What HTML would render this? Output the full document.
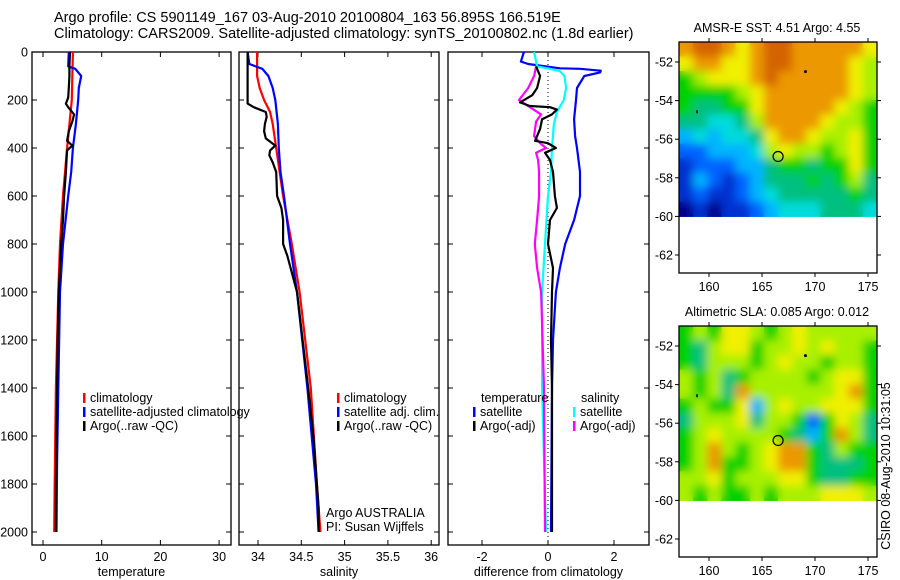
<!DOCTYPE html>
<html><head><meta charset="utf-8"><style>
body{margin:0;background:#fff;}
svg{display:block;font-family:"Liberation Sans",sans-serif;}
</style></head><body>
<svg id="fig" width="900" height="580" viewBox="0 0 900 580" xmlns="http://www.w3.org/2000/svg">
<defs>
<filter id="smooth" x="0" y="0" width="1" height="1"><feGaussianBlur stdDeviation="4.5"/></filter>
<clipPath id="clip-sst"><rect x="679" y="42" width="198" height="175"/></clipPath>
<clipPath id="clip-sla"><rect x="679" y="326" width="198" height="176"/></clipPath>
</defs>
<text x="54" y="22" font-size="14.5">Argo profile: CS 5901149_167 03-Aug-2010 20100804_163 56.895S 166.519E</text>
<text x="54" y="38" font-size="14.5">Climatology: CARS2009. Satellite-adjusted climatology: synTS_20100802.nc (1.8d earlier)</text>
<text x="777" y="32" font-size="12.5" text-anchor="middle">AMSR-E SST: 4.51  Argo: 4.55</text>
<text x="777" y="316" font-size="12.5" text-anchor="middle">Altimetric SLA: 0.085  Argo: 0.012</text>
<text transform="translate(890,466) rotate(-90)" font-size="12.5" text-anchor="middle">CSIRO 08-Aug-2010 10:31:05</text>
<g id="plots"></g>
</svg>
<script>
// ---- data ----
const depthTicks = [0,200,400,600,800,1000,1200,1400,1600,1800,2000];
const tempTicks = [0,10,20,30];
const salTicks = [34,34.5,35,35.5,36];
const diffTicks = [-2,0,2];
const lonTicks = [160,165,170,175];
const latTicks = [-52,-54,-56,-58,-60,-62];

const tArgoDepth = [0,60,100,150,190,215,230,260,290,330,370,390,410,450,500,600,700,800,1000,1200,1400,1600,1800,2000];
const tArgo = [4.6,4.5,4.5,4.4,4.3,3.9,4.3,5.3,5.0,4.4,4.1,5.0,4.1,4.0,3.9,3.6,3.4,3.1,2.7,2.5,2.4,2.3,2.2,2.2];
const tClimDepth = [0,200,400,600,800,1000,1400,1800,2000];
const tClim = [5.1,4.9,4.1,3.4,2.9,2.6,2.2,2.0,1.9];
const tSatDepth = [0,60,70,100,150,200,300,400,500,600,800,1000,1400,1700,2000];
const tSat = [4.4,4.3,5.5,6.5,6.1,6.0,5.6,5.1,4.8,4.3,3.4,2.9,2.6,2.4,2.3];

const sArgoDepth = [0,100,190,215,230,250,270,300,330,360,390,410,430,460,500,600,650,700,800,850,1000,1400,1600,1900,2000];
const sArgo = [33.88,33.88,33.88,33.88,33.95,34.09,34.10,34.08,34.07,34.09,34.20,34.14,34.13,34.17,34.21,34.22,34.27,34.29,34.29,34.34,34.45,34.58,34.64,34.70,34.70];
const sClimDepth = [0,100,150,200,250,300,400,600,800,1000,1400,1800,2000];
const sClim = [33.99,33.99,34.02,34.07,34.14,34.17,34.21,34.29,34.39,34.48,34.61,34.68,34.72];
const sSatDepth = [0,50,70,100,150,200,300,400,500,600,800,1000,1400,1800,2000];
const sSat = [33.88,33.90,34.05,34.12,34.17,34.20,34.23,34.24,34.26,34.30,34.37,34.45,34.57,34.67,34.70];

const dTSatDepth = [0,40,50,68,70,78,85,100,150,200,280,350,400,500,600,700,800,900,1000,1200,1400,2000];
const dTSat = [-0.73,-0.82,-0.6,0.36,0.97,1.6,1.58,1.1,0.88,0.85,0.79,0.82,0.88,0.97,0.97,0.79,0.52,0.36,0.24,0.15,0.12,0.09];
const dTArgoDepth = [60,100,150,180,210,225,230,240,260,280,320,370,380,400,420,450,500,600,650,700,800,900,1000,1200,1400,2000];
const dTArgo = [-0.36,-0.24,-0.33,-0.48,-0.85,-0.55,0.06,0.27,0.12,-0.18,-0.24,-0.39,0.0,0.24,-0.09,0.06,0.15,0.21,0.27,0.06,0.0,0.15,0.12,0.09,0.12,0.12];
const dSSatDepth = [0,60,70,80,100,150,200,250,300,400,500,600,800,1000,1400,2000];
const dSSat = [-0.42,-0.33,0.06,0.36,0.5,0.55,0.48,0.27,0.18,0.12,0.09,0.0,-0.09,-0.18,-0.18,-0.06];
const dSArgoDepth = [60,100,150,200,230,260,290,350,380,400,420,450,500,600,700,800,900,1000,1400,2000];
const dSArgo = [-0.36,-0.42,-0.6,-0.88,-0.55,-0.21,-0.36,-0.42,-0.24,-0.06,-0.36,-0.3,-0.27,-0.27,-0.33,-0.4,-0.33,-0.21,-0.12,-0.09];

const sstGrid = [
[9,10,10,9,8,9,10,10,9,9,9,9,9,8],
[8,9,9,8,8,9,10,10,9,9,9,9,8,7],
[6,7,8,8,8,9,10,9,9,9,9,9,8,7],
[6,6,6,6,7,8,9,9,9,9,9,9,8,7],
[6,5,5,6,6,8,9,9,9,9,9,8,7,6],
[5,5,4,4,5,7,9,9,9,9,8,7,7,6],
[3,4,3,4,4,5,8,9,9,8,7,7,8,6],
[2,2,3,3,3,4,7,8,7,7,6,7,8,6],
[1,2,2,2,3,3,5,6,6,5,6,6,8,6],
[1,3,2,1,2,3,5,5,5,6,5,6,7,5],
[1,2,1,1,2,3,4,5,5,5,5,5,6,5],
[0,1,0,1,1,2,3,4,4,4,5,5,5,4]];
const slaGrid = [
[6,7,6,8,8,7,6,7,8,7,7,7,7,7],
[6,5,7,8,8,6,7,7,8,7,8,7,7,6],
[6,5,7,7,7,6,7,8,7,7,6,7,7,6],
[7,6,7,5,6,7,7,7,7,6,7,8,8,6],
[7,6,7,5,9,7,7,7,7,7,7,8,9,6],
[6,7,6,6,8,3,7,8,7,7,8,8,8,6],
[5,7,7,7,8,5,7,7,6,2,6,8,7,5],
[6,7,8,7,7,7,7,6,5,3,6,9,7,5],
[6,7,9,7,6,7,8,9,9,6,5,7,6,6],
[6,7,9,6,6,7,8,9,9,6,5,5,5,6],
[7,7,8,6,7,7,7,8,8,6,5,5,6,6],
[7,6,7,6,6,7,6,7,7,7,8,8,8,7]];
const argoLon = 166.519, argoLat = -56.895;

// ---- drawing ----
const NS='http://www.w3.org/2000/svg';
const root=document.getElementById('plots');
function mk(tag,attrs,parent){const e=document.createElementNS(NS,tag);for(const k in attrs)e.setAttribute(k,attrs[k]);(parent||root).appendChild(e);return e;}
const depthY = d => 52 + d*0.24;
const Y0=52, Y1=545;

function profilePanel(x0,x1,xs,ticks,label,name,showDepth){
  const g=mk('g',{});
  
  
  mk('rect',{x:x0,y:Y0,width:x1-x0,height:Y1-Y0,fill:'none',stroke:'#000','stroke-width':1.3},g);
  ticks.forEach(t=>{const x=xs(t);
    mk('line',{x1:x,x2:x,y1:Y0,y2:Y0+5,stroke:'#000'},g);
    mk('line',{x1:x,x2:x,y1:Y1,y2:Y1-5,stroke:'#000'},g);
    const tx=mk('text',{x:x,y:561,'font-size':12.5,'text-anchor':'middle'},g);tx.textContent=t;
    
    
  });
  depthTicks.forEach(d=>{const y=depthY(d);
    mk('line',{x1:x0,x2:x0+5,y1:y,y2:y,stroke:'#000'},g);
    mk('line',{x1:x1,x2:x1-5,y1:y,y2:y,stroke:'#000'},g);
    if(showDepth){const tx=mk('text',{x:28,y:y+4.5,'font-size':12.5,'text-anchor':'end'},g);tx.textContent=d;
      
      }
  });
  const lt=mk('text',{x:(x0+x1)/2,y:576,'font-size':12.5,'text-anchor':'middle'},g);lt.textContent=label;
  
  
  return g;
}
function series(g,depths,vals,xs,color,name,w){
  const p=depths.map((d,i)=>xs(vals[i]).toFixed(1)+','+depthY(d).toFixed(1)).join(' ');
  const l=mk('polyline',{points:p,fill:'none',stroke:color,'stroke-width':w||2.2,'stroke-linejoin':'round'},g);
  
  
}
function legend(g,x,y,color,text,name){
  mk('rect',{x:x,y:y-9,width:2.5,height:10,fill:color},g);
  const t=mk('text',{x:x+7,y:y,'font-size':12.5},g);t.textContent=text;
  
  
}

// temperature
const tx=v=>43+5.87*v;
let g=profilePanel(32,231,tx,tempTicks,'temperature','temperature',true);
series(g,tClimDepth,tClim,tx,'#f00','temp-climatology-line');
series(g,tSatDepth,tSat,tx,'#00f','temp-satellite-line');
series(g,tArgoDepth,tArgo,tx,'#000','temp-argo-line');
legend(g,83,402,'#f00','climatology','temp-legend-climatology');
legend(g,83,416,'#00f','satellite-adjusted climatology','temp-legend-satellite');
legend(g,83,430,'#000','Argo(..raw -QC)','temp-legend-argo');

// salinity
const sx=v=>258+86.6*(v-34);
g=profilePanel(239,439,sx,salTicks,'salinity','salinity',false);
series(g,sClimDepth,sClim,sx,'#f00','sal-climatology-line');
series(g,sSatDepth,sSat,sx,'#00f','sal-satellite-line');
series(g,sArgoDepth,sArgo,sx,'#000','sal-argo-line');
legend(g,337,402,'#f00','climatology','sal-legend-climatology');
legend(g,337,416,'#00f','satellite adj. clim.','sal-legend-satellite');
legend(g,337,430,'#000','Argo(..raw -QC)','sal-legend-argo');
let t=mk('text',{x:326,y:517,'font-size':12.5},g);t.textContent='Argo AUSTRALIA';


t=mk('text',{x:326,y:531,'font-size':12.5},g);t.textContent='PI: Susan Wijffels';



// difference
const dx=v=>548+33*v;
g=profilePanel(448,649,dx,diffTicks,'difference from climatology','difference',false);
mk('line',{x1:dx(0),x2:dx(0),y1:Y0,y2:Y1,stroke:'#000','stroke-dasharray':'1,3','stroke-width':1},g);
series(g,dTSatDepth,dTSat,dx,'#00f','diff-temp-satellite-line');
series(g,dSSatDepth,dSSat,dx,'#0ff','diff-sal-satellite-line');
series(g,dSArgoDepth,dSArgo,dx,'#f0f','diff-sal-argo-line');
series(g,dTArgoDepth,dTArgo,dx,'#000','diff-temp-argo-line');
t=mk('text',{x:481,y:402,'font-size':12.5},g);t.textContent='temperature';


t=mk('text',{x:581,y:402,'font-size':12.5},g);t.textContent='salinity';


legend(g,473,416,'#00f','satellite','diff-legend-temp-satellite');
legend(g,473,430,'#000','Argo(-adj)','diff-legend-temp-argo');
legend(g,573,416,'#0ff','satellite','diff-legend-sal-satellite');
legend(g,573,430,'#f0f','Argo(-adj)','diff-legend-sal-argo');

// maps
const cmap=['#00008b','#0030d0','#0064ff','#00b4ff','#00dcdc','#00c080','#00d200','#a8f000','#f0f000','#ec9800','#d46400'];
function mapPanel(top,grid,name){
  const gm=mk('g',{});
  
  
  const lonX=l=>709+(l-160)*10.6;
  const latY=l=>top+20+(-52-l)*19.3;
  const L=679,R=877,B=top+231;
  const lon0=157.17, lon1=175.85, lat0=-52+(-20/19.3)*-1, lat1=-60;
  const nr=grid.length,nc=grid[0].length;
  const dLon=(lon1-lon0)/nc, dLat=(lat0-lat1)/nr;
  const sharp=mk('g',{},gm);
  const blur=mk('g',{filter:'url(#smooth)'},mk('g',{'clip-path':'url(#clip-'+name+')'},gm));
  grid.forEach((row,i)=>row.forEach((v,j)=>{
    const xa=lonX(lon0+j*dLon), xb=lonX(lon0+(j+1)*dLon);
    const ya=latY(lat0-i*dLat), yb=latY(lat0-(i+1)*dLat);
    const c=mk('rect',{x:xa,y:ya,width:xb-xa+0.5,height:yb-ya+0.5,fill:cmap[v]},sharp);
    
    
    mk('rect',{x:xa,y:ya,width:xb-xa+0.5,height:yb-ya+0.5,fill:cmap[v]},blur);
  }));
  mk('rect',{x:L,y:top,width:R-L,height:B-top,fill:'none',stroke:'#000','stroke-width':1.3},gm);
  lonTicks.forEach(l=>{const x=lonX(l);
    mk('line',{x1:x,x2:x,y1:top,y2:top-4,stroke:'#000'},gm);
    mk('line',{x1:x,x2:x,y1:B,y2:B+4,stroke:'#000'},gm);
    const tt=mk('text',{x:x,y:B+18,'font-size':12.5,'text-anchor':'middle'},gm);tt.textContent=l;
    
    });
  latTicks.forEach(l=>{const y=latY(l);
    mk('line',{x1:L,x2:L-4,y1:y,y2:y,stroke:'#000'},gm);
    mk('line',{x1:R,x2:R+4,y1:y,y2:y,stroke:'#000'},gm);
    const tt=mk('text',{x:L-6,y:y+4.5,'font-size':12.5,'text-anchor':'end'},gm);tt.textContent=l;
    
    });
  mk('circle',{cx:lonX(argoLon),cy:latY(argoLat),r:5,fill:'none',stroke:'#000','stroke-width':1.2},gm);
  mk('circle',{cx:lonX(169.1),cy:latY(-52.5),r:1.5,fill:'#000'},gm);
  mk('rect',{x:lonX(158.8),y:latY(-54.5),width:1.5,height:3,fill:'#000'},gm);
}
mapPanel(42,sstGrid,'sst');
mapPanel(326,slaGrid,'sla');
</script>
</body></html>
